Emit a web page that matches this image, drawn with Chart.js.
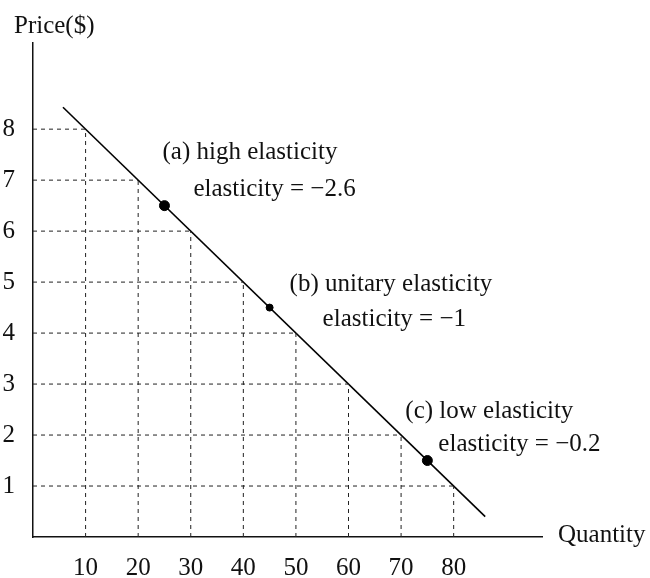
<!DOCTYPE html>
<html>
<head>
<meta charset="utf-8">
<script src="https://cdn.jsdelivr.net/npm/chart.js@4.4.0/dist/chart.umd.min.js"></script>
<style>
  html, body { margin: 0; padding: 0; background: #fff; }
  #wrap { width: 650px; height: 578px; }
</style>
</head>
<body>
<div id="wrap"><canvas id="chart" width="650" height="578"></canvas></div>
<script>
const quantityTicks = [10, 20, 30, 40, 50, 60, 70, 80];
const priceTicks = [1, 2, 3, 4, 5, 6, 7, 8];
// dashed guides stop where they meet the demand line
const guideEndQuantity = [80, 70, 60, 50, 40, 30, 20, 10]; // price 1..8
const guideTopPrice = [8, 7, 6, 5, 4, 3, 2, 1];            // quantity 10..80
const demandQuantity = [5.7, 86];
const demandPrice = [8.43, 0.4];
const pointTags = ['(a)', '(b)', '(c)'];
const pointNames = ['high elasticity', 'unitary elasticity', 'low elasticity'];
const pointQuantity = [25, 45, 75];
const pointPrice = [6.5, 4.5, 1.5];
const pointElasticity = ['−2.6', '−1', '−0.2'];
const pointSize = [5, 3.5, 5];

const FONT = "'Liberation Serif', 'Times New Roman', serif";
const INK = '#111';

const datasets = [];
priceTicks.forEach((p, i) => {
  datasets.push({
    data: [{ x: 0, y: p }, { x: guideEndQuantity[i], y: p }],
    borderColor: '#222', borderWidth: 1, borderDash: [4, 4], pointRadius: 0
  });
});
quantityTicks.forEach((q, i) => {
  datasets.push({
    data: [{ x: q, y: 0 }, { x: q, y: guideTopPrice[i] }],
    borderColor: '#222', borderWidth: 1, borderDash: [4, 4], pointRadius: 0
  });
});
datasets.push({
  data: demandQuantity.map((q, i) => ({ x: q, y: demandPrice[i] })),
  borderColor: '#000', borderWidth: 1.6, pointRadius: 0
});
datasets.push({
  data: pointQuantity.map((q, i) => ({ x: q, y: pointPrice[i] })),
  showLine: false,
  pointRadius: pointSize,
  pointBackgroundColor: '#000',
  pointBorderColor: '#000'
});

// label offsets from each point, in pixels: [tagLine dx, dy, valueLine dx, dy]
const labelOffsets = [[-2, -53, 29, -16], [20, -23, 53, 12], [-22, -49, 11, -16]];

const textPlugin = {
  id: 'texts',
  afterDraw(chart) {
    const { ctx, chartArea, scales } = chart;
    ctx.save();
    ctx.fillStyle = INK;
    ctx.font = `25px ${FONT}`;
    ctx.textBaseline = 'middle';
    ctx.textAlign = 'left';
    ctx.fillText('Price($)', chartArea.left - 19, chartArea.top - 17);
    ctx.fillText('Quantity', chartArea.right + 16, chartArea.bottom - 2);
    pointQuantity.forEach((q, i) => {
      const px = scales.x.getPixelForValue(q);
      const py = scales.y.getPixelForValue(pointPrice[i]);
      const o = labelOffsets[i];
      ctx.fillText(`${pointTags[i]} ${pointNames[i]}`, px + o[0], py + o[1]);
      ctx.fillText(`elasticity = ${pointElasticity[i]}`, px + o[2], py + o[3]);
    });
    ctx.restore();
  }
};

new Chart(document.getElementById('chart'), {
  type: 'scatter',
  data: { datasets },
  plugins: [textPlugin],
  options: {
    responsive: false,
    animation: false,
    showLine: true,
    layout: { padding: { left: 0, top: 43, right: 108, bottom: 0 } },
    plugins: { legend: { display: false }, tooltip: { enabled: false } },
    elements: { line: { tension: 0 } },
    scales: {
      x: {
        type: 'linear', min: 0, max: 96.8,
        afterBuildTicks: s => { s.ticks = quantityTicks.map(v => ({ value: v })); },
        afterFit: s => { s.height = 41; },
        grid: { display: false, drawTicks: false },
        border: { display: true, color: INK, width: 1.5 },
        ticks: { color: INK, font: { family: FONT, size: 25 }, padding: 16, maxRotation: 0, autoSkip: false }
      },
      y: {
        type: 'linear', min: 0, max: 9.69,
        afterBuildTicks: s => { s.ticks = priceTicks.map(v => ({ value: v })); },
        afterFit: s => { s.width = 33; },
        grid: { display: false, drawTicks: false },
        border: { display: true, color: INK, width: 1.5 },
        ticks: { color: INK, font: { family: FONT, size: 25 }, padding: 18, autoSkip: false }
      }
    }
  }
});
</script>
</body>
</html>
